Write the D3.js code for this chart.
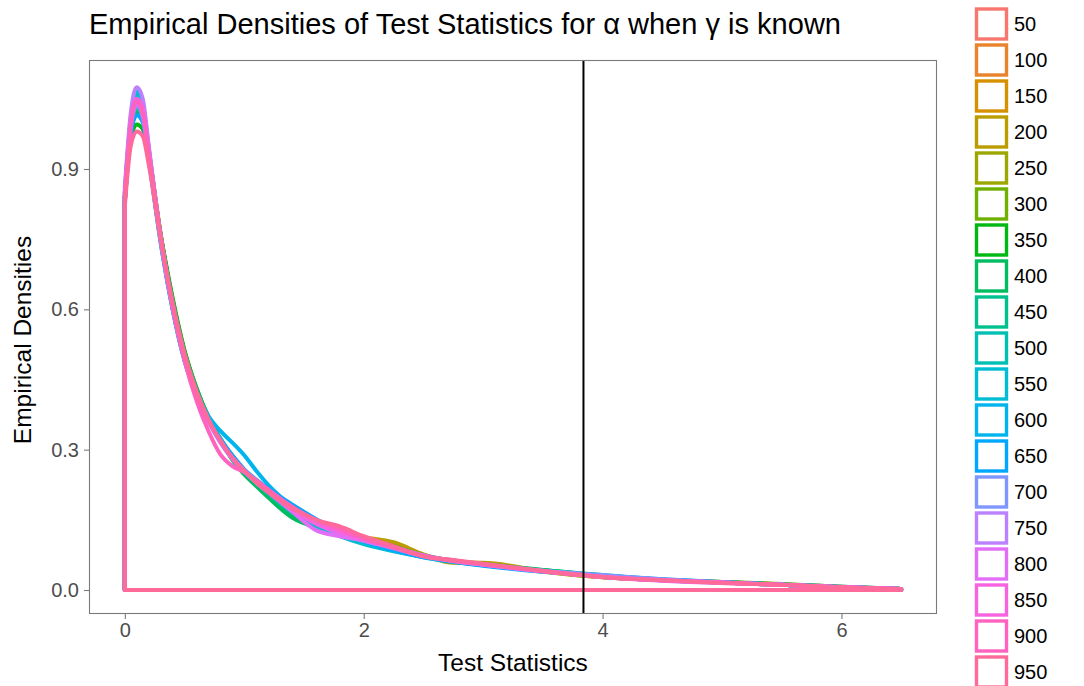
<!DOCTYPE html>
<html>
<head>
<meta charset="utf-8">
<script src="https://cdn.jsdelivr.net/npm/d3@7"></script>
<style>
  body { margin: 0; background: #fff; }
  svg text { font-family: "Liberation Sans", Arial, Helvetica, sans-serif; }
</style>
</head>
<body>
<svg id="chart" width="1084" height="686"></svg>
<script>
'use strict';

// sample sizes (legend levels)
const sizes = [50, 100, 150, 200, 250, 300, 350, 400, 450, 500, 550, 600, 650, 700, 750, 800, 850, 900, 950];

// grid of test statistic values the densities were read at
const xGrid = [0, 0.05, 0.1, 0.15, 0.2, 0.3, 0.4, 0.5, 0.6, 0.7, 0.8, 0.9, 1.0, 1.1, 1.2, 1.4, 1.6, 1.8, 2.0, 2.25, 2.5, 2.75, 3.0, 3.5, 4.0, 4.5, 5.0, 5.5, 6.0, 6.5];

// empirical densities, one array per sample size
const d50  = [0.83, 0.98, 1.03, 1.01, 0.93, 0.755, 0.615, 0.505, 0.425, 0.362, 0.318, 0.282, 0.254, 0.23, 0.21, 0.172, 0.143, 0.126, 0.11, 0.092, 0.073, 0.063, 0.055, 0.040, 0.028, 0.021, 0.016, 0.011, 0.006, 0.002];
const d100 = [0.84, 0.99, 1.04, 1.02, 0.935, 0.755, 0.612, 0.502, 0.426, 0.366, 0.32, 0.284, 0.256, 0.231, 0.208, 0.171, 0.142, 0.124, 0.11, 0.094, 0.075, 0.062, 0.054, 0.040, 0.029, 0.022, 0.016, 0.012, 0.007, 0.002];
const d150 = [0.83, 0.985, 1.035, 1.015, 0.935, 0.76, 0.62, 0.51, 0.43, 0.365, 0.318, 0.28, 0.252, 0.228, 0.207, 0.17, 0.14, 0.125, 0.112, 0.096, 0.074, 0.06, 0.055, 0.041, 0.028, 0.021, 0.017, 0.012, 0.006, 0.002];
const d200 = [0.84, 0.995, 1.045, 1.03, 0.94, 0.76, 0.62, 0.51, 0.43, 0.367, 0.322, 0.285, 0.256, 0.23, 0.207, 0.168, 0.138, 0.122, 0.113, 0.102, 0.076, 0.058, 0.058, 0.040, 0.027, 0.021, 0.017, 0.012, 0.006, 0.002];
const d250 = [0.845, 0.995, 1.04, 1.025, 0.94, 0.76, 0.618, 0.508, 0.428, 0.366, 0.321, 0.284, 0.255, 0.231, 0.209, 0.172, 0.141, 0.124, 0.11, 0.095, 0.073, 0.061, 0.057, 0.039, 0.027, 0.021, 0.016, 0.011, 0.006, 0.002];
const d300 = [0.84, 0.99, 1.035, 1.015, 0.93, 0.755, 0.615, 0.505, 0.428, 0.368, 0.322, 0.284, 0.255, 0.23, 0.208, 0.17, 0.14, 0.124, 0.112, 0.094, 0.074, 0.062, 0.055, 0.04, 0.029, 0.022, 0.017, 0.013, 0.007, 0.002];
const d350 = [0.83, 0.965, 0.995, 0.985, 0.92, 0.76, 0.625, 0.512, 0.432, 0.37, 0.322, 0.28, 0.25, 0.225, 0.2, 0.158, 0.136, 0.124, 0.11, 0.093, 0.073, 0.061, 0.054, 0.042, 0.03, 0.021, 0.016, 0.011, 0.006, 0.002];
const d400 = [0.84, 0.98, 1.02, 1.005, 0.93, 0.755, 0.618, 0.508, 0.43, 0.37, 0.322, 0.278, 0.247, 0.222, 0.198, 0.155, 0.134, 0.122, 0.11, 0.092, 0.074, 0.062, 0.055, 0.043, 0.031, 0.022, 0.016, 0.011, 0.006, 0.002];
const d450 = [0.84, 0.985, 1.03, 1.01, 0.93, 0.752, 0.612, 0.503, 0.427, 0.368, 0.323, 0.283, 0.252, 0.228, 0.205, 0.165, 0.138, 0.122, 0.108, 0.09, 0.073, 0.062, 0.054, 0.042, 0.032, 0.022, 0.016, 0.011, 0.006, 0.002];
const d500 = [0.85, 1.005, 1.06, 1.035, 0.94, 0.752, 0.608, 0.5, 0.424, 0.366, 0.322, 0.285, 0.256, 0.232, 0.21, 0.172, 0.14, 0.12, 0.104, 0.088, 0.072, 0.062, 0.054, 0.041, 0.03, 0.022, 0.016, 0.011, 0.006, 0.002];
const d550 = [0.85, 1.01, 1.065, 1.04, 0.945, 0.755, 0.61, 0.5, 0.423, 0.367, 0.324, 0.287, 0.257, 0.232, 0.21, 0.172, 0.138, 0.115, 0.098, 0.083, 0.071, 0.062, 0.055, 0.041, 0.029, 0.021, 0.016, 0.011, 0.006, 0.002];
const d600 = [0.84, 0.99, 1.04, 1.015, 0.925, 0.745, 0.6, 0.49, 0.42, 0.372, 0.34, 0.315, 0.288, 0.255, 0.225, 0.18, 0.148, 0.125, 0.104, 0.086, 0.07, 0.06, 0.053, 0.04, 0.03, 0.022, 0.016, 0.011, 0.006, 0.002];
const d650 = [0.83, 0.975, 1.015, 1.0, 0.92, 0.742, 0.6, 0.49, 0.418, 0.362, 0.322, 0.288, 0.258, 0.236, 0.216, 0.183, 0.152, 0.128, 0.105, 0.085, 0.07, 0.061, 0.052, 0.039, 0.031, 0.023, 0.017, 0.012, 0.007, 0.002];
const d700 = [0.84, 0.99, 1.035, 1.01, 0.925, 0.745, 0.603, 0.495, 0.42, 0.362, 0.318, 0.282, 0.254, 0.23, 0.21, 0.176, 0.145, 0.124, 0.106, 0.089, 0.073, 0.063, 0.055, 0.041, 0.032, 0.023, 0.016, 0.011, 0.006, 0.002];
const d750 = [0.86, 1.02, 1.075, 1.05, 0.95, 0.755, 0.607, 0.495, 0.418, 0.36, 0.315, 0.28, 0.253, 0.23, 0.21, 0.174, 0.142, 0.12, 0.105, 0.09, 0.074, 0.062, 0.054, 0.04, 0.029, 0.021, 0.016, 0.011, 0.006, 0.002];
const d800 = [0.84, 0.99, 1.04, 1.015, 0.93, 0.75, 0.605, 0.495, 0.42, 0.362, 0.318, 0.283, 0.256, 0.232, 0.21, 0.168, 0.128, 0.115, 0.106, 0.092, 0.074, 0.062, 0.054, 0.04, 0.028, 0.02, 0.015, 0.011, 0.006, 0.002];
const d850 = [0.85, 1.0, 1.05, 1.03, 0.94, 0.755, 0.61, 0.5, 0.423, 0.363, 0.318, 0.282, 0.254, 0.23, 0.209, 0.172, 0.142, 0.124, 0.108, 0.091, 0.073, 0.063, 0.055, 0.04, 0.028, 0.021, 0.016, 0.011, 0.006, 0.002];
const d900 = [0.84, 0.995, 1.045, 1.02, 0.935, 0.755, 0.605, 0.49, 0.405, 0.34, 0.29, 0.265, 0.252, 0.235, 0.215, 0.178, 0.15, 0.13, 0.11, 0.09, 0.072, 0.062, 0.055, 0.04, 0.028, 0.021, 0.016, 0.011, 0.006, 0.002];
const d950 = [0.82, 0.95, 0.98, 0.97, 0.91, 0.75, 0.615, 0.505, 0.425, 0.365, 0.32, 0.283, 0.255, 0.23, 0.21, 0.175, 0.15, 0.136, 0.115, 0.094, 0.072, 0.064, 0.056, 0.041, 0.028, 0.021, 0.015, 0.011, 0.006, 0.002];

const densities = [d50, d100, d150, d200, d250, d300, d350, d400, d450, d500, d550, d600, d650, d700, d750, d800, d850, d900, d950];

// chi-square(1) 95% critical value
const critical = [3.84];

const xTicks = [0, 2, 4, 6];
const yTicks = [0, 0.3, 0.6, 0.9];

// ggplot-like hue palette (polar LUV -> sRGB)
function hueColor(h, c, l) {
    const Xn = 95.047, Yn = 100, Zn = 108.883;
    const rad = h * Math.PI / 180;
    const u = c * Math.cos(rad), v = c * Math.sin(rad);
    const Y = l > 8 ? Yn * Math.pow((l + 16) / 116, 3) : Yn * l / 903.3;
    const den = Xn + 15 * Yn + 3 * Zn;
    const up = u / (13 * l) + 4 * Xn / den;
    const vp = v / (13 * l) + 9 * Yn / den;
    const X = Y * 9 * up / (4 * vp);
    const Z = Y * (12 - 3 * up - 20 * vp) / (4 * vp);
    const x = X / 100, y = Y / 100, z = Z / 100;
    const lin = [
        3.240479 * x - 1.537150 * y - 0.498535 * z,
        -0.969256 * x + 1.875992 * y + 0.041556 * z,
        0.055648 * x - 0.204043 * y + 1.057311 * z
    ];
    const g = lin.map(t => {
        t = t <= 0.0031308 ? 12.92 * t : 1.055 * Math.pow(t, 1 / 2.4) - 0.055;
        return Math.round(Math.max(0, Math.min(1, t)) * 255);
    });
    return d3.rgb(g[0], g[1], g[2]).formatHex();
}

const n = sizes.length;
const colors = sizes.map((s, i) => hueColor(15 + i * 360 / n, 100, 65));
const color = d3.scaleOrdinal().domain(sizes).range(colors);

const svg = d3.select('#chart');
const panel = { left: 89, right: 937, top: 60, bottom: 614 };

const x = d3.scaleLinear().domain([-0.3, 6.8]).range([panel.left, panel.right]);
const y = d3.scaleLinear().domain([-0.0513, 1.133]).range([panel.bottom, panel.top]);

svg.append('rect')
    .attr('width', 1084).attr('height', 686).attr('fill', '#fff');

// title
svg.append('text')
    .attr('x', 89).attr('y', 34)
    .attr('font-size', 29)
    .attr('fill', '#000')
    .attr('textLength', 752)
    .attr('lengthAdjust', 'spacingAndGlyphs')
    .text('Empirical Densities of Test Statistics for α when γ is known');

svg.append('defs').append('clipPath').attr('id', 'clip')
    .append('rect')
    .attr('x', panel.left).attr('y', panel.top)
    .attr('width', panel.right - panel.left).attr('height', panel.bottom - panel.top);

const outline = d3.area()
    .x((d, i) => x(xGrid[i]))
    .y0(y(0))
    .y1(d => y(d))
    .curve(d3.curveMonotoneX);

const plot = svg.append('g').attr('clip-path', 'url(#clip)');

plot.selectAll('.density')
    .data(densities)
    .enter()
    .append('path')
    .attr('class', 'density')
    .attr('d', d => outline(d))
    .attr('fill', 'none')
    .attr('stroke', (d, i) => color(sizes[i]))
    .attr('stroke-width', 4)
    .attr('stroke-linejoin', 'round');

plot.selectAll('.vline')
    .data(critical)
    .enter()
    .append('line')
    .attr('class', 'vline')
    .attr('x1', d => x(d)).attr('x2', d => x(d))
    .attr('y1', panel.top).attr('y2', panel.bottom)
    .attr('stroke', '#000')
    .attr('stroke-width', 2);

// panel border
svg.append('rect')
    .attr('x', panel.left + 0.5).attr('y', panel.top + 0.5)
    .attr('width', panel.right - panel.left - 1).attr('height', panel.bottom - panel.top - 1)
    .attr('fill', 'none')
    .attr('stroke', '#7a7a7a')
    .attr('stroke-width', 1.1);

// axes
const xAxis = svg.append('g')
    .attr('transform', `translate(0, ${panel.bottom})`)
    .call(d3.axisBottom(x).tickValues(xTicks).tickFormat(d3.format('d')).tickSize(5).tickPadding(4));

const yAxis = svg.append('g')
    .attr('transform', `translate(${panel.left}, 0)`)
    .call(d3.axisLeft(y).tickValues(yTicks).tickFormat(d3.format('.1f')).tickSize(5).tickPadding(5));

[xAxis, yAxis].forEach(ax => {
    ax.select('.domain').remove();
    ax.selectAll('.tick line').attr('stroke', '#7a7a7a').attr('stroke-width', 1.1);
    ax.selectAll('.tick text')
        .attr('fill', '#4d4d4d')
        .attr('font-size', 20)
        .attr('font-family', '"Liberation Sans", Arial, sans-serif');
});

// axis titles
svg.append('text')
    .attr('x', (panel.left + panel.right) / 2).attr('y', 671)
    .attr('text-anchor', 'middle')
    .attr('font-size', 24.5)
    .text('Test Statistics');

svg.append('text')
    .attr('transform', `translate(31, ${(panel.top + panel.bottom) / 2 + 3}) rotate(-90)`)
    .attr('text-anchor', 'middle')
    .attr('font-size', 24.5)
    .text('Empirical Densities');

// legend
const legend = svg.append('g').attr('transform', 'translate(975, 24)');

const item = legend.selectAll('.key')
    .data(sizes)
    .enter()
    .append('g')
    .attr('class', 'key')
    .attr('transform', (d, i) => `translate(0, ${i * 36})`);

item.append('rect')
    .attr('x', 1.5).attr('y', -15)
    .attr('width', 30).attr('height', 30)
    .attr('fill', '#fff')
    .attr('stroke', d => color(d))
    .attr('stroke-width', 3.4);

item.append('text')
    .attr('x', 39).attr('y', 0)
    .attr('dy', '0.36em')
    .attr('font-size', 20)
    .text(d => d);
</script>
</body>
</html>
